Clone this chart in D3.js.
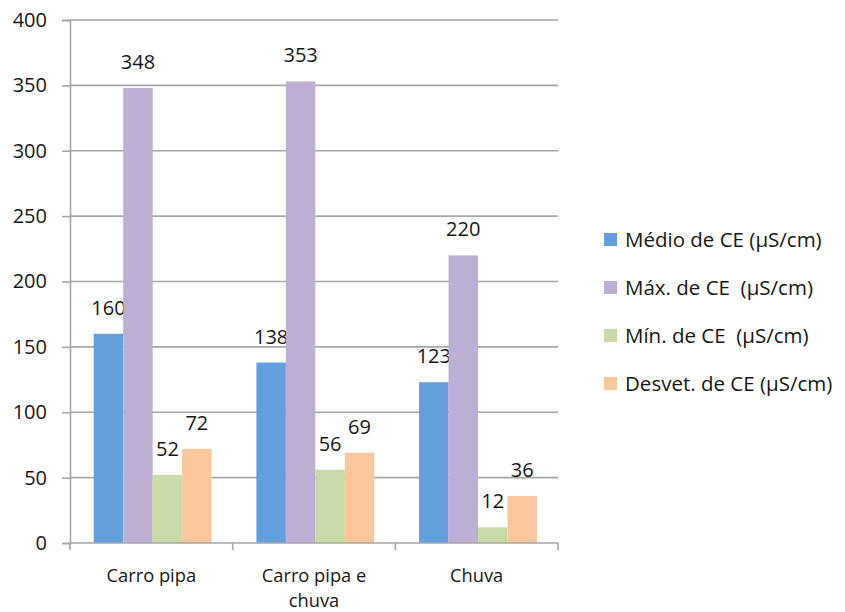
<!DOCTYPE html>
<html>
<head>
<meta charset="utf-8">
<script src="https://cdn.jsdelivr.net/npm/d3@7"></script>
<style>
  html, body { margin: 0; padding: 0; background: #fff; }
  svg text { font-family: "Open Sans", "Noto Sans", sans-serif; fill: #161616; white-space: pre; }
</style>
</head>
<body>
<svg id="chart" width="845" height="612"></svg>
<script>
// Condutividade elétrica (CE) por origem da água
const categories = ["Carro pipa", "Carro pipa e chuva", "Chuva"];
const categoryLines = [["Carro pipa"], ["Carro pipa e", "chuva"], ["Chuva"]];
const seriesNames = [
  "Médio de CE (µS/cm)",
  "Máx. de CE  (µS/cm)",
  "Mín. de CE  (µS/cm)",
  "Desvet. de CE (µS/cm)"
];
const medio  = [160, 138, 123];
const maximo = [348, 353, 220];
const minimo = [52, 56, 12];
const desvet = [72, 69, 36];
const yTicks = [0, 50, 100, 150, 200, 250, 300, 350, 400];
const colors = ["#639fdc", "#bdafd3", "#c9daa6", "#fac79c"];

const seriesValues = [medio, maximo, minimo, desvet];

const svg = d3.select("#chart");
const plotLeft = 70, plotRight = 558, plotTop = 20, plotBottom = 543;

const x0 = d3.scaleBand().domain(categories).range([plotLeft, plotRight]).paddingInner(0).paddingOuter(0);
const x1 = d3.scaleBand().domain(d3.range(seriesNames.length))
  .range([0, x0.bandwidth()]).paddingOuter(0.76).paddingInner(0).align(0.53);
const y = d3.scaleLinear().domain([0, 400]).range([plotBottom, plotTop]);

const gridColor = "#a6a6a6";

// horizontal gridlines
svg.append("g").selectAll("line").data(yTicks.filter(d => d > 0)).join("line")
  .attr("x1", plotLeft).attr("x2", plotRight)
  .attr("y1", d => y(d)).attr("y2", d => y(d))
  .attr("stroke", gridColor).attr("stroke-width", 1.6);

// y axis
const yAxis = svg.append("g").attr("transform", `translate(${plotLeft},0)`)
  .call(d3.axisLeft(y).tickValues(yTicks).tickSize(8).tickPadding(15));
yAxis.attr("font-size", null).attr("font-family", null);
yAxis.select(".domain").attr("stroke", gridColor).attr("stroke-width", 1.6);
yAxis.selectAll(".tick line").attr("stroke", gridColor).attr("stroke-width", 1.6);
yAxis.selectAll(".tick text").attr("font-size", 20).attr("fill", "#161616");

// bars
const groups = svg.append("g").selectAll("g").data(categories).join("g")
  .attr("transform", d => `translate(${x0(d)},0)`);

groups.each(function(cat, ci) {
  const g = d3.select(this);
  seriesValues.forEach((vals, si) => {
    const v = vals[ci];
    g.append("rect")
      .attr("x", x1(si)).attr("width", x1.bandwidth())
      .attr("y", y(v)).attr("height", y(0) - y(v))
      .attr("fill", colors[si]);
    g.append("text")
      .attr("x", x1(si) + x1.bandwidth() / 2)
      .attr("y", y(v) - 19)
      .attr("text-anchor", "middle")
      .attr("font-size", 20)
      .text(v);
  });
});

// x axis
const xAxisG = svg.append("g");
xAxisG.append("line").attr("x1", plotLeft).attr("x2", plotRight)
  .attr("y1", y(0)).attr("y2", y(0))
  .attr("stroke", gridColor).attr("stroke-width", 1.6);
const boundaries = categories.map(c => x0(c)).concat([plotRight]);
xAxisG.selectAll("line.tick").data(boundaries).join("line").attr("class", "tick")
  .attr("x1", d => d).attr("x2", d => d)
  .attr("y1", y(0)).attr("y2", y(0) + 7)
  .attr("stroke", gridColor).attr("stroke-width", 1.6);

// category labels, one text element per line
categories.forEach((c, i) => {
  categoryLines[i].forEach((ln, li) => {
    svg.append("text")
      .attr("x", x0(c) + x0.bandwidth() / 2)
      .attr("y", 582 + li * 25)
      .attr("text-anchor", "middle")
      .attr("font-size", 18.3)
      .text(ln);
  });
});

// legend
const legend = svg.append("g").attr("transform", "translate(604,240)");
seriesNames.forEach((name, i) => {
  const row = legend.append("g").attr("transform", `translate(0,${i * 48})`);
  row.append("rect").attr("x", 0).attr("y", -7).attr("width", 13).attr("height", 13)
    .attr("fill", colors[i]);
  row.append("text").attr("x", 21).attr("y", 7).attr("font-size", 20.5).text(name);
});
</script>
</body>
</html>
